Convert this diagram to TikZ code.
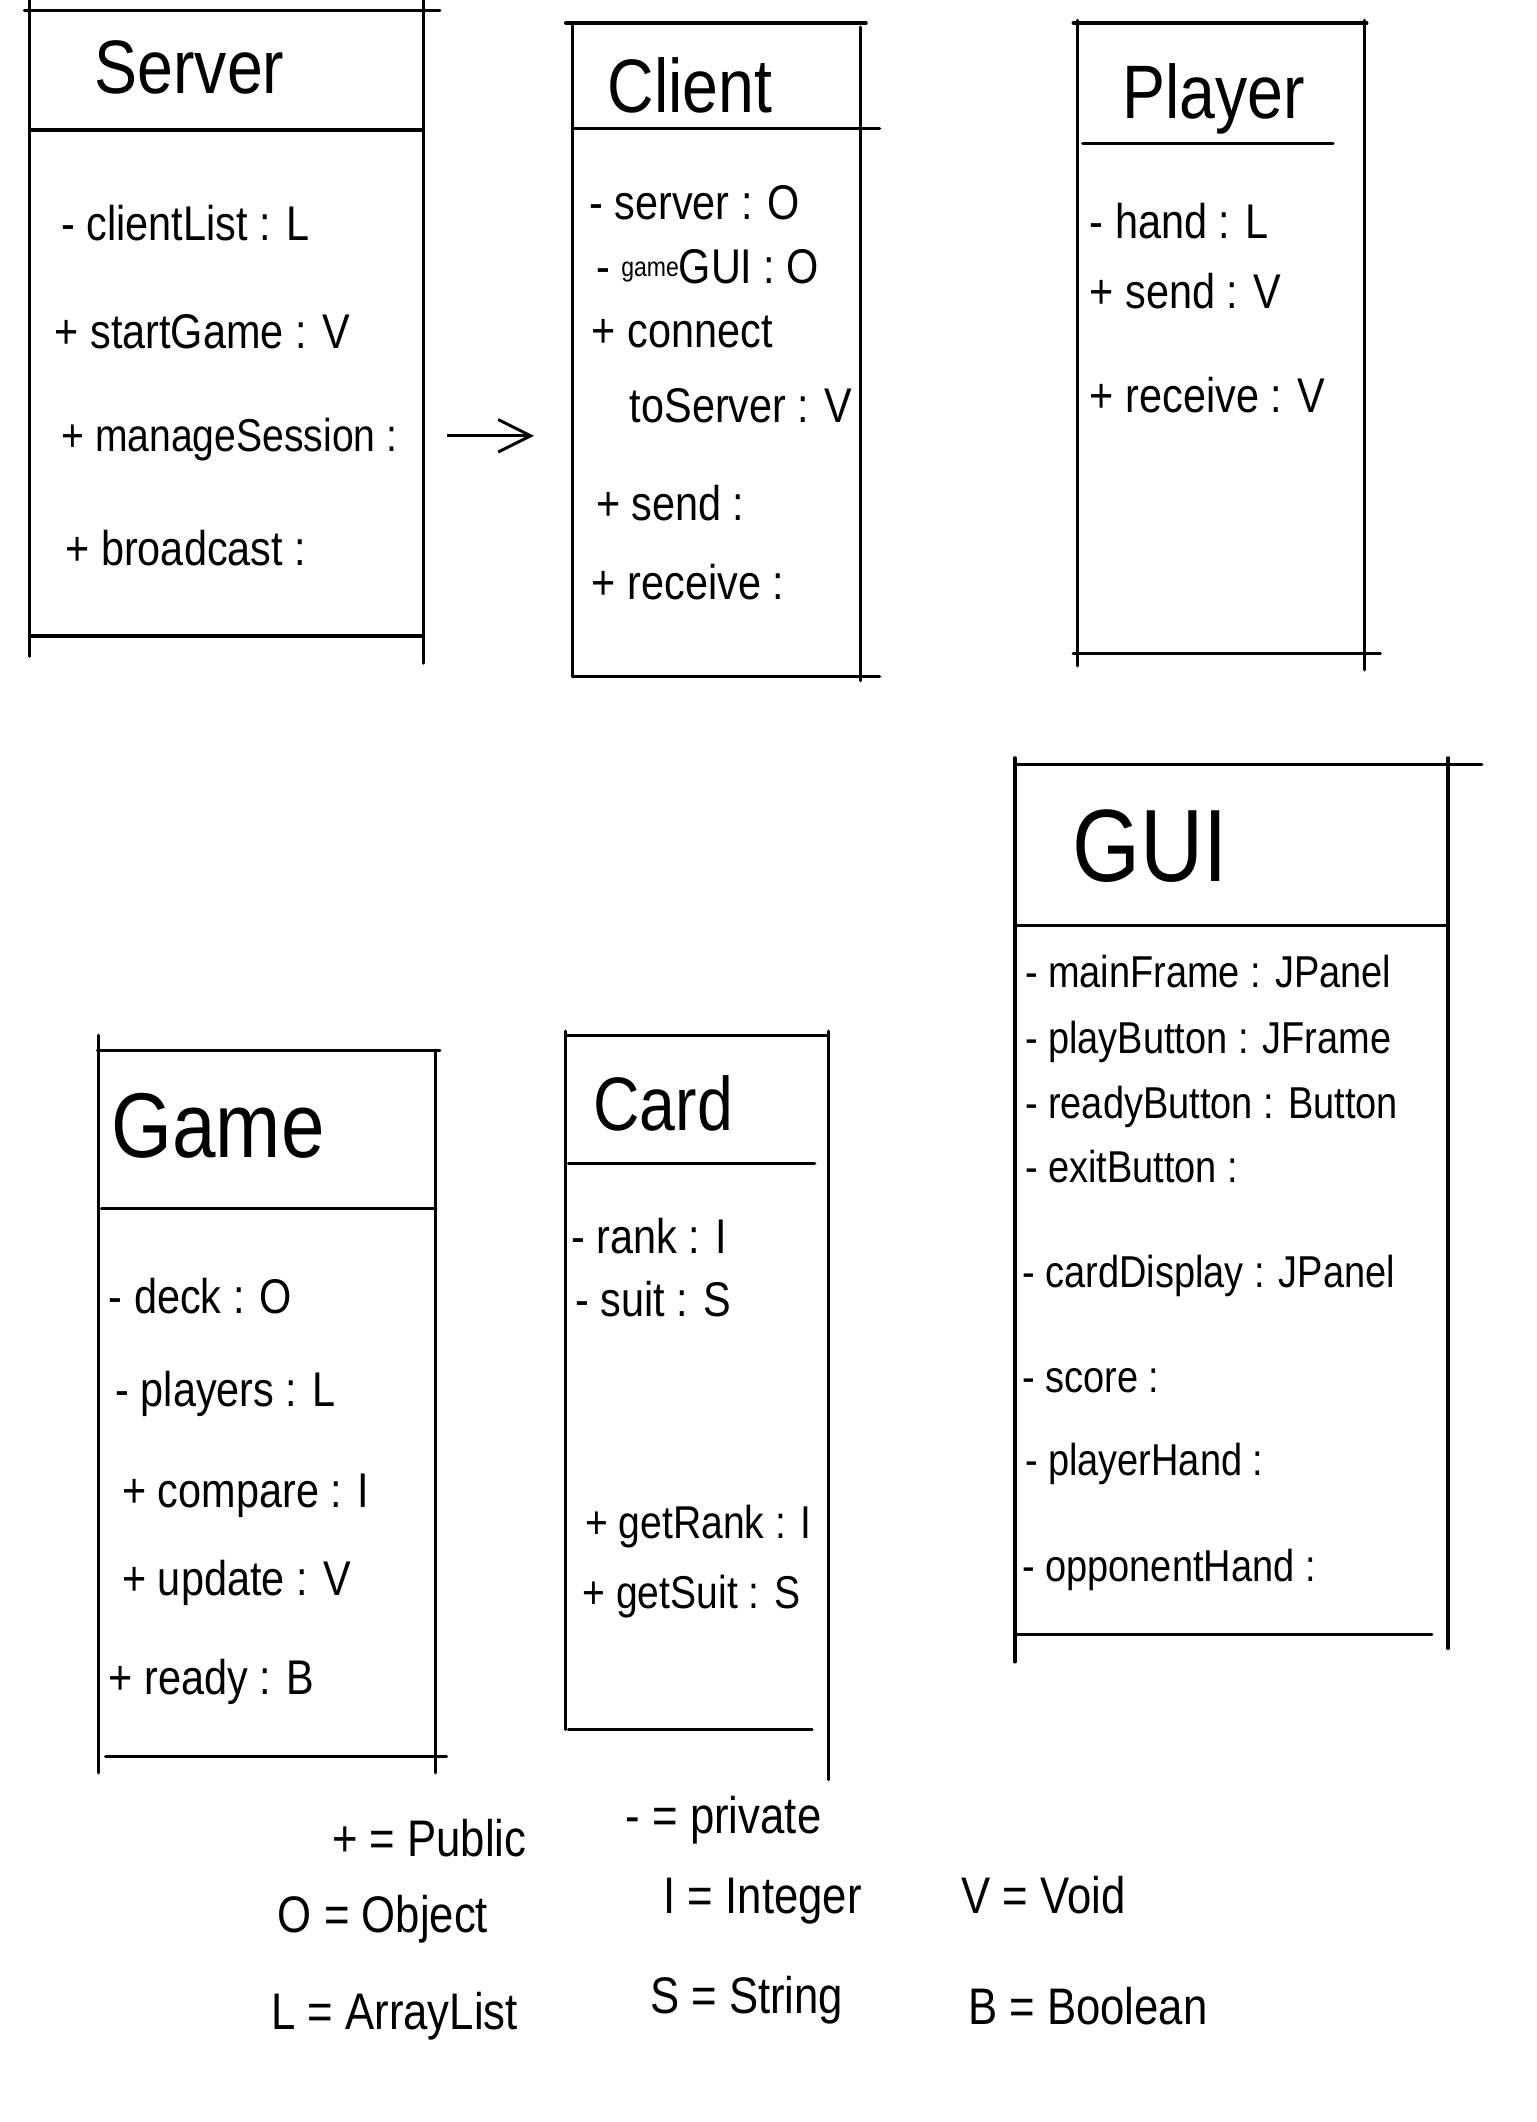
\documentclass[tikz,border=0pt]{standalone}
\usepackage{fontspec}
\setmainfont{Liberation Sans}[FakeStretch=0.85]
\usetikzlibrary{arrows.meta,fit}
\tikzset{
  rule/.style={line width=1.2pt, line cap=round},
  attr/.style={anchor=west, inner sep=0pt, font=\fontsize{18}{20}\selectfont},
  cattr/.style={anchor=west, inner sep=0pt, font=\fontsize{17}{19}\selectfont},
  gattr/.style={anchor=west, inner sep=0pt, font=\fontsize{16.5}{18}\selectfont},
  legend/.style={anchor=west, inner sep=0pt, font=\fontsize{19}{21}\selectfont},
  ttl/.style={anchor=center, inner sep=0pt, font=\fontsize{28}{30}\selectfont},
  bigttl/.style={anchor=center, inner sep=0pt, font=\fontsize{38}{40}\selectfont},
  boxarea/.style={inner sep=0pt, draw=none},
  arr/.style={line width=1.1pt, -{Straight Barb[length=12pt,width=12pt,line width=1.1pt]}}
}
\begin{document}
\begin{tikzpicture}[x=0.5pt,y=-0.5pt]
\useasboundingbox (0,0) rectangle (1135,1568);
\fill[white] (0,0) rectangle (1135,1568);

% ---------- Server ----------
\draw[rule] (18,8) -- (325,8);
\draw[rule] (22,0) -- (22,485);
\draw[rule] (313,0) -- (313,490);
\draw[rule] (22,96) -- (313,96);
\draw[rule] (22,470) -- (312,470);
\node[boxarea, fit={(22,8)(313,470)}] (srv) {};
\node[ttl] (srvT) at (140,50) {Server};
\node[attr] (s1) at (45,165) {- clientList : L};
\node[attr] (s2) at (40,245) {+ startGame : V};
\node[cattr] (s3) at (45,325) {+ manageSession :};
\node[attr] (s4) at (48,405) {+ broadcast :};

% ---------- Client ----------
\draw[rule] (418,17) -- (640,17);
\draw[rule] (423,17) -- (423,500);
\draw[rule] (636,20) -- (636,503);
\draw[rule] (423,95) -- (650,95);
\draw[rule] (423,500) -- (650,500);
\node[boxarea, fit={(423,17)(636,500)}] (cli) {};
\node[ttl] (cliT) at (510,63) {Client};
\node[attr] (c1) at (435,150) {- server : O};
\node[attr] (c2) at (440,197) {- {\fontsize{10}{10}\selectfont\raisebox{0.5ex}{game}}GUI : O};
\node[attr] (c3) at (437,245) {+ connect};
\node[attr] (c4) at (465,300) {toServer : V};
\node[attr] (c5) at (440,372) {+ send :};
\node[attr] (c6) at (437,430) {+ receive :};

% arrow Server -> Client
\coordinate (ay) at (0,322);
\draw[arr, shorten <=8.5pt, shorten >=14pt] (srv.east |- ay) -- (cli.west |- ay);

% ---------- Player ----------
\draw[rule] (793,17) -- (1010,17);
\draw[rule] (796,15) -- (796,492);
\draw[rule] (1008,15) -- (1008,495);
\draw[rule] (800,106) -- (985,106);
\draw[rule] (793,483) -- (1020,483);
\node[boxarea, fit={(796,17)(1008,483)}] (ply) {};
\node[ttl] (plyT) at (897,73) {Player};
\node[attr] (p1) at (805,163) {- hand : L};
\node[attr] (p2) at (805,215) {+ send : V};
\node[attr] (p3) at (805,292) {+ receive : V};

% ---------- GUI ----------
\draw[rule] (750,565) -- (1095,565);
\draw[rule] (750,560) -- (750,1228);
\draw[rule] (1070,560) -- (1070,1218);
\draw[rule] (750,684) -- (1070,684);
\draw[rule] (750,1208) -- (1058,1208);
\node[boxarea, fit={(750,565)(1070,1208)}] (gui) {};
\node[bigttl] (guiT) at (850,625) {GUI};
\node[gattr] (g1) at (757,718) {- mainFrame : JPanel};
\node[gattr] (g2) at (757,770) {- playButton : JFrame};
\node[gattr] (g3) at (757,818) {- readyButton : Button};
\node[gattr] (g4) at (757,862) {- exitButton :};
\node[gattr] (g5) at (755,943) {- cardDisplay : JPanel};
\node[gattr] (g6) at (755,1020) {- score :};
\node[gattr] (g7) at (757,1082) {- playerHand :};
\node[gattr] (g8) at (755,1160) {- opponentHand :};

% ---------- Game ----------
\draw[rule] (72,776) -- (325,776);
\draw[rule] (73,765) -- (73,1310);
\draw[rule] (322,776) -- (322,1310);
\draw[rule] (75,893) -- (322,893);
\draw[rule] (78,1298) -- (330,1298);
\node[boxarea, fit={(73,776)(322,1298)}] (gam) {};
\node[bigttl, anchor=west, font=\fontsize{34}{36}\selectfont] (gamT) at (82,832) {Game};
\node[attr] (m1) at (80,958) {- deck : O};
\node[attr] (m2) at (85,1030) {- players : L};
\node[attr] (m3) at (90,1105) {+ compare : I};
\node[attr] (m4) at (90,1170) {+ update : V};
\node[attr] (m5) at (80,1243) {+ ready : B};

% ---------- Card ----------
\draw[rule] (418,765) -- (612,765);
\draw[rule] (418,762) -- (418,1278);
\draw[rule] (612,762) -- (612,1315);
\draw[rule] (420,860) -- (602,860);
\draw[rule] (420,1278) -- (600,1278);
\node[boxarea, fit={(418,765)(612,1278)}] (crd) {};
\node[ttl] (crdT) at (490,815) {Card};
\node[attr] (k1) at (422,913) {- rank : I};
\node[attr] (k2) at (425,960) {- suit : S};
\node[cattr] (k3) at (432,1128) {+ getRank : I};
\node[cattr] (k4) at (430,1180) {+ getSuit : S};

% ---------- Legend ----------
\node[legend] (l1) at (245,1358) {+ = Public};
\node[legend] (l2) at (462,1345) {- = private};
\node[legend] (l3) at (205,1418) {O = Object};
\node[legend] (l4) at (490,1405) {I = Integer};
\node[legend] (l5) at (710,1400) {V = Void};
\node[legend] (l6) at (200,1490) {L = ArrayList};
\node[legend] (l7) at (480,1478) {S = String};
\node[legend] (l8) at (715,1482) {B = Boolean};
\end{tikzpicture}
\end{document}
